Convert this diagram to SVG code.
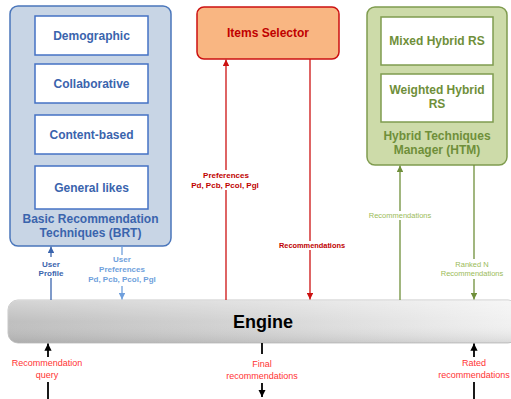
<svg xmlns="http://www.w3.org/2000/svg" width="511" height="399" viewBox="0 0 511 399">
<defs>
<linearGradient id="engH" x1="0" y1="0" x2="1" y2="0">
<stop offset="0" stop-color="#bfbfbf"/>
<stop offset="0.5" stop-color="#d6d6d6"/>
<stop offset="1" stop-color="#f2f2f2"/>
</linearGradient>
<linearGradient id="engV" x1="0" y1="0" x2="0" y2="1">
<stop offset="0" stop-color="#ffffff" stop-opacity="0.35"/>
<stop offset="0.5" stop-color="#ffffff" stop-opacity="0"/>
<stop offset="1" stop-color="#000000" stop-opacity="0.1"/>
</linearGradient>
<marker id="aBlueD" viewBox="0 0 10 10" refX="10" refY="5" markerWidth="5" markerHeight="5" orient="auto"><path d="M0,0L10,5L0,10z" fill="#3a64ad"/></marker>
<marker id="aBlueL" viewBox="0 0 10 10" refX="10" refY="5" markerWidth="5" markerHeight="5" orient="auto"><path d="M0,0L10,5L0,10z" fill="#6f9fdc"/></marker>
<marker id="aRed" viewBox="0 0 10 10" refX="10" refY="5" markerWidth="5" markerHeight="5" orient="auto"><path d="M0,0L10,5L0,10z" fill="#cc1111"/></marker>
<marker id="aGreen" viewBox="0 0 10 10" refX="10" refY="5" markerWidth="5" markerHeight="5" orient="auto"><path d="M0,0L10,5L0,10z" fill="#6f8f3a"/></marker>
<marker id="aBlack" viewBox="0 0 10 10" refX="10" refY="5" markerWidth="4" markerHeight="4" orient="auto"><path d="M0,0L10,5L0,10z" fill="#000"/></marker>
</defs>
<style>
text{font-family:"Liberation Sans",Arial,sans-serif;text-anchor:middle}
.b{font-weight:bold}
.blue{fill:#3a64ad}
.lblue{fill:#6f9fdc}
.red{fill:#c00000}
.lred{fill:#ff3333}
.green{fill:#6f8f3a}
.lgreen{fill:#9bbb59}
.inB{fill:#fff;stroke:#4472c4;stroke-width:1.5}
.inG{fill:#fff;stroke:#7f9c4f;stroke-width:1.5}
</style>

<g id="engine">
<rect x="8" y="300" width="510" height="43" rx="10" fill="url(#engH)" stroke="#c8c8c8" stroke-width="1"/>
<rect x="8" y="300" width="510" height="43" rx="10" fill="url(#engV)"/>
<text x="263" y="328" class="b" font-size="18" fill="#000">Engine</text>
</g>

<g id="brt">
<rect x="10" y="6" width="161" height="240" rx="8" fill="#c8d5e5" stroke="#4a76bb" stroke-width="1.5"/>
<rect class="inB" x="35" y="16" width="113" height="39"/>
<text x="91.5" y="39.5" class="b blue" font-size="12">Demographic</text>
<rect class="inB" x="35" y="64" width="113" height="39"/>
<text x="91.5" y="87.5" class="b blue" font-size="12">Collaborative</text>
<rect class="inB" x="35" y="115" width="113" height="39"/>
<text x="91.5" y="139" class="b blue" font-size="12">Content-based</text>
<rect class="inB" x="35" y="166" width="113" height="43"/>
<text x="91.5" y="192" class="b blue" font-size="12">General likes</text>
<text x="90.5" y="223" class="b blue" font-size="12">Basic Recommendation</text>
<text x="90.5" y="237" class="b blue" font-size="12">Techniques (BRT)</text>
</g>

<g id="items-selector">
<rect x="197" y="7" width="142" height="52" rx="7" fill="#f9b682" stroke="#cc1111" stroke-width="1.5"/>
<text x="268" y="37" class="b red" font-size="12">Items Selector</text>
</g>

<g id="htm">
<rect x="367" y="7" width="140" height="158" rx="8" fill="#cddba9" stroke="#7f9c4f" stroke-width="1.5"/>
<rect class="inG" x="381" y="17" width="112" height="48"/>
<text x="437" y="45" class="b green" font-size="12">Mixed Hybrid RS</text>
<rect class="inG" x="381" y="74" width="112" height="48"/>
<text x="437" y="94" class="b green" font-size="12">Weighted Hybrid</text>
<text x="437" y="108" class="b green" font-size="12">RS</text>
<text x="437" y="140" class="b green" font-size="12">Hybrid Techniques</text>
<text x="437" y="154" class="b green" font-size="12">Manager (HTM)</text>
</g>

<g id="connectors" fill="none" stroke-width="1.3">
<line x1="51" y1="300" x2="51" y2="278" stroke="#3a64ad"/>
<line x1="51" y1="257" x2="51" y2="246.5" stroke="#3a64ad" marker-end="url(#aBlueD)"/>
<line x1="122" y1="246" x2="122" y2="255" stroke="#6f9fdc"/>
<line x1="122" y1="286" x2="122" y2="299.5" stroke="#6f9fdc" marker-end="url(#aBlueL)"/>
<line x1="226" y1="300" x2="226" y2="190" stroke="#cc1111"/>
<line x1="226" y1="170" x2="226" y2="59.5" stroke="#cc1111" marker-end="url(#aRed)"/>
<line x1="310" y1="59" x2="310" y2="241" stroke="#cc1111"/>
<line x1="310" y1="250" x2="310" y2="299.5" stroke="#cc1111" marker-end="url(#aRed)"/>
<line x1="400" y1="300" x2="400" y2="220" stroke="#6f8f3a"/>
<line x1="400" y1="211" x2="400" y2="165.5" stroke="#6f8f3a" marker-end="url(#aGreen)"/>
<line x1="474" y1="165" x2="474" y2="259" stroke="#6f8f3a"/>
<line x1="474" y1="279" x2="474" y2="299.5" stroke="#6f8f3a" marker-end="url(#aGreen)"/>
<line x1="48" y1="357" x2="48" y2="343.5" stroke="#000" stroke-width="1.8" marker-end="url(#aBlack)"/>
<line x1="48" y1="382" x2="48" y2="399" stroke="#000" stroke-width="1.8"/>
<line x1="262" y1="343" x2="262" y2="354" stroke="#000" stroke-width="1.8"/>
<line x1="262" y1="383" x2="262" y2="397" stroke="#000" stroke-width="1.8" marker-end="url(#aBlack)"/>
<line x1="474" y1="357" x2="474" y2="343.5" stroke="#000" stroke-width="1.8" marker-end="url(#aBlack)"/>
<line x1="474" y1="382" x2="474" y2="399" stroke="#000" stroke-width="1.8"/>
</g>

<g id="labels">
<text x="51" y="267" class="b blue" font-size="8">User</text>
<text x="51" y="276" class="b blue" font-size="8">Profile</text>
<text x="122" y="262" class="b lblue" font-size="8">User</text>
<text x="122" y="272" class="b lblue" font-size="8">Preferences</text>
<text x="122" y="282" class="b lblue" font-size="8">Pd, Pcb, Pcol, Pgl</text>
<text x="226" y="178" class="b red" font-size="8">Preferences</text>
<text x="225" y="188" class="b red" font-size="8">Pd, Pcb, Pcol, Pgl</text>
<text x="312" y="248" class="b red" font-size="7.4">Recommendations</text>
<text x="400" y="218" class="lgreen" font-size="7.5">Recommendations</text>
<text x="472" y="267" class="lgreen" font-size="7.5">Ranked N</text>
<text x="472" y="276" class="lgreen" font-size="7.5">Recommendations</text>
<text x="47" y="366" class="lred" font-size="9">Recommendation</text>
<text x="47" y="378" class="lred" font-size="9">query</text>
<text x="262" y="367" class="lred" font-size="9">Final</text>
<text x="262" y="379" class="lred" font-size="9">recommendations</text>
<text x="474" y="366" class="lred" font-size="9">Rated</text>
<text x="474" y="378" class="lred" font-size="9">recommendations</text>
</g>
</svg>
